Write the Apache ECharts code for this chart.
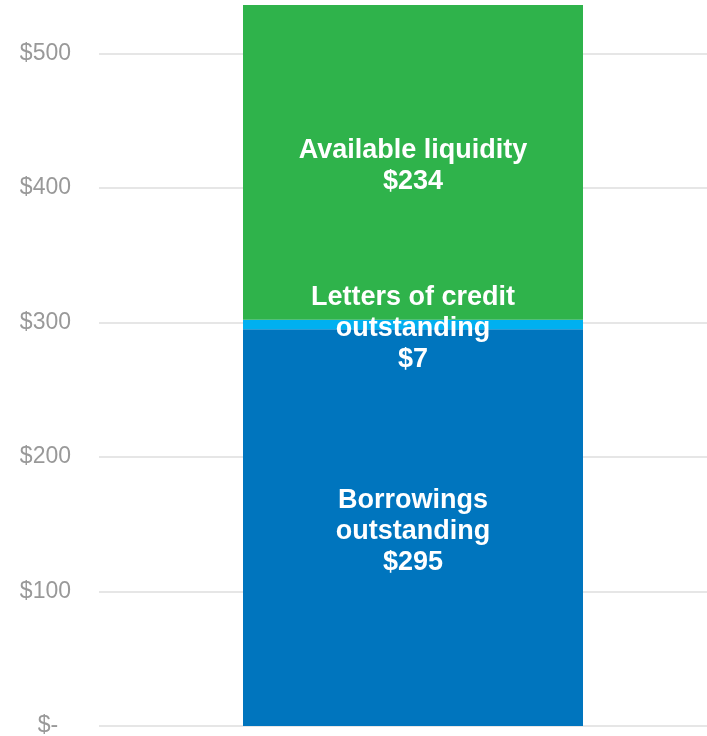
<!DOCTYPE html>
<html>
<head>
<meta charset="utf-8">
<script src="https://cdn.jsdelivr.net/npm/echarts@6/dist/echarts.min.js"></script>
<style>
  html, body { margin: 0; padding: 0; background: #fff; }
  #chart { width: 707px; height: 736px; }
</style>
</head>
<body>
<div id="chart"></div>
<script>
  // values in $ millions, stacked bottom to top
  const categories = ['Liquidity']
  const seriesNames = ['Borrowings\noutstanding', 'Letters of credit\noutstanding', 'Available liquidity']
  const borrowings = [295]
  const lettersOfCredit = [7]
  const available = [234]
  const yTicks = [0, 100, 200, 300, 400, 500]

  const colors = ['#0075be', '#00b0f0', '#2fb34b']
  const dataSets = [borrowings, lettersOfCredit, available]

  let myChart = echarts.init(document.getElementById('chart'))

  // split line colours cycle per tick; hide the one drawn at the max (536)
  const gridColors = yTicks.map(() => '#e6e6e6').concat(['rgba(0,0,0,0)'])

  let option = {
    animation: false,
    grid: { left: 99, right: -20, top: 5, bottom: 10, outerBoundsMode: 'none' },
    xAxis: {
      type: 'category',
      data: categories,
      axisLine: { show: false },
      axisTick: { show: false },
      axisLabel: { show: false }
    },
    yAxis: {
      type: 'value',
      min: 0,
      max: 536,
      interval: 100,
      axisLine: { show: false },
      axisTick: { show: false },
      axisLabel: {
        color: '#999999',
        fontSize: 23,
        fontFamily: 'Liberation Sans, Arial, sans-serif',
        margin: 28,
        formatter: v => yTicks.includes(v) ? (v === 0 ? '$-  ' : '$' + v) : ''
      },
      splitLine: { lineStyle: { color: gridColors, width: 2 } }
    },
    series: seriesNames.map((name, i) => ({
      name: name,
      type: 'bar',
      stack: 'total',
      barWidth: 340,
      data: dataSets[i],
      itemStyle: { color: colors[i] },
      label: {
        show: true,
        position: 'inside',
        offset: [0, 4],
        color: '#fff',
        fontSize: 27,
        fontWeight: 'bold',
        lineHeight: 31,
        fontFamily: 'Liberation Sans, Arial, sans-serif',
        formatter: p => name + '\n$' + p.value
      }
    }))
  }
  myChart.setOption(option)
</script>
</body>
</html>
